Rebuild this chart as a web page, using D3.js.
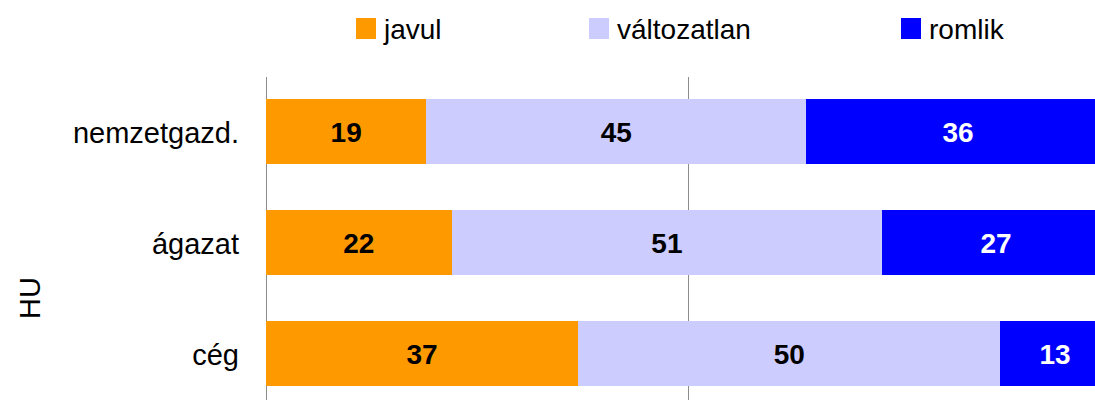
<!DOCTYPE html>
<html>
<head>
<meta charset="utf-8">
<script src="https://cdn.jsdelivr.net/npm/d3@7"></script>
<style>
html,body{margin:0;padding:0;background:#fff;overflow:hidden;}
text{font-family:"Liberation Sans",Arial,Helvetica,sans-serif;}
</style>
</head>
<body>
<svg id="chart" width="1095" height="400"></svg>
<script>
const categories = ["nemzetgazd.", "ágazat", "cég"];
const seriesNames = ["javul", "változatlan", "romlik"];
const javul = [19, 22, 37];
const valtozatlan = [45, 51, 50];
const romlik = [36, 27, 13];
const xTicks = [0, 50, 100];
const groupLabel = "HU";

const colors = ["#FF9900", "#CCCCFF", "#0000FF"];
const textColors = ["#000", "#000", "#fff"];

const svg = d3.select("#chart");
const x = d3.scaleLinear().domain([0, 100]).range([266, 1110]);
const y = d3.scaleBand().domain(categories).range([75.7, 409.3]).paddingInner(0.418).paddingOuter(0.209);

// gridlines
svg.append("g").selectAll("line").data(xTicks).join("line")
  .attr("x1", d => x(d)).attr("x2", d => x(d))
  .attr("y1", 77).attr("y2", 400)
  .attr("stroke", "#8c8c8c").attr("stroke-width", 1)
  .attr("shape-rendering", "crispEdges");

const rows = categories.map((c, i) => ({cat: c, vals: [javul[i], valtozatlan[i], romlik[i]]}));
const stack = d3.stack().keys([0, 1, 2]).value((d, k) => d.vals[k]);
const layers = stack(rows);

layers.forEach((layer, k) => {
  const g = svg.append("g");
  g.selectAll("rect").data(layer).join("rect")
    .attr("x", d => x(d[0]))
    .attr("width", d => x(d[1]) - x(d[0]))
    .attr("y", d => y(d.data.cat))
    .attr("height", y.bandwidth())
    .attr("fill", colors[k])
    .attr("shape-rendering", "crispEdges");
});
layers.forEach((layer, k) => {
  svg.append("g").selectAll("text").data(layer).join("text")
    .attr("x", d => (x(d[0]) + x(d[1])) / 2)
    .attr("y", d => y(d.data.cat) + y.bandwidth() / 2)
    .attr("dy", "0.38em")
    .attr("text-anchor", "middle")
    .attr("font-size", 28)
    .attr("font-weight", "bold")
    .attr("fill", textColors[k])
    .text(d => d.data.vals[k]);
});

// category labels
svg.append("g").selectAll("text").data(categories).join("text")
  .attr("x", 239)
  .attr("y", d => y(d) + y.bandwidth() / 2)
  .attr("dy", "0.4em")
  .attr("text-anchor", "end")
  .attr("font-size", 29)
  .attr("fill", "#000")
  .text(d => d);

// group label
svg.append("text")
  .attr("transform", "translate(40,298) rotate(-90)")
  .attr("text-anchor", "middle")
  .attr("font-size", 29)
  .attr("fill", "#000")
  .text(groupLabel);

// legend
const legendX = [356, 589, 901];
const lg = svg.append("g").selectAll("g").data(seriesNames).join("g")
  .attr("transform", (d, i) => `translate(${legendX[i]},18)`);
lg.append("rect").attr("width", 20).attr("height", 21)
  .attr("fill", (d, i) => colors[i]);
lg.append("text").attr("x", 28).attr("y", 21)
  .attr("font-size", 28).attr("fill", "#000")
  .text(d => d);
</script>
</body>
</html>
